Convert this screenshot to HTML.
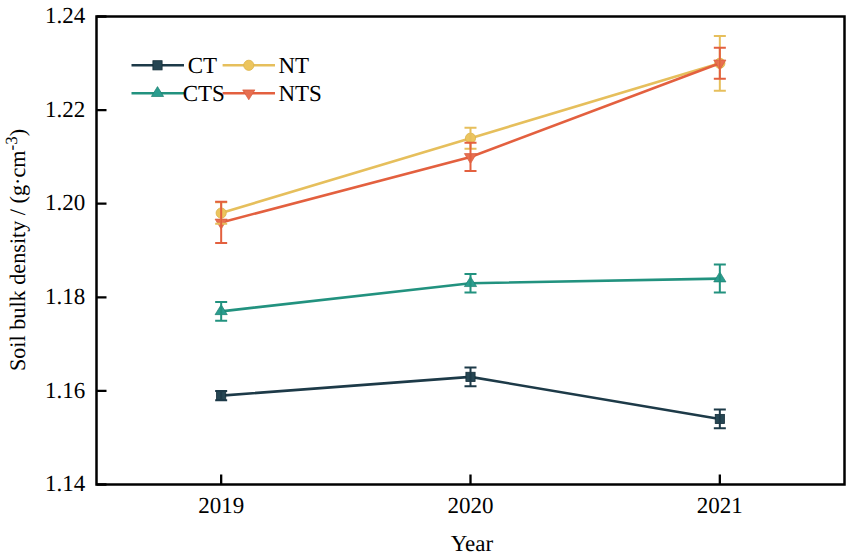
<!DOCTYPE html>
<html><head><meta charset="utf-8"><style>
html,body{margin:0;padding:0;background:#fff;}
svg{display:block;}
text{font-family:"Liberation Serif",serif;font-size:23px;fill:#000;text-rendering:geometricPrecision;}
</style></head><body>
<svg width="851" height="559" viewBox="0 0 851 559">
<rect width="851" height="559" fill="#fff"/>
<path d="M221.17 395.58 L470.50 376.86 L719.83 418.98" fill="none" stroke="#1d3a48" stroke-width="2.6"/>
<rect x="216.57" y="390.98" width="9.2" height="9.2" fill="#264653" stroke="#132c38" stroke-width="0.8"/>
<rect x="465.90" y="372.26" width="9.2" height="9.2" fill="#264653" stroke="#132c38" stroke-width="0.8"/>
<rect x="715.23" y="414.38" width="9.2" height="9.2" fill="#264653" stroke="#132c38" stroke-width="0.8"/>
<path d="M221.17 311.34 L470.50 283.26 L719.83 278.58" fill="none" stroke="#22927f" stroke-width="2.6"/>
<path d="M221.17 304.74L227.27 314.64L215.07 314.64Z" fill="#2a9d8f" stroke="#1b8070" stroke-width="0.7" stroke-linejoin="miter"/>
<path d="M470.50 276.66L476.60 286.56L464.40 286.56Z" fill="#2a9d8f" stroke="#1b8070" stroke-width="0.7" stroke-linejoin="miter"/>
<path d="M719.83 271.98L725.93 281.88L713.73 281.88Z" fill="#2a9d8f" stroke="#1b8070" stroke-width="0.7" stroke-linejoin="miter"/>
<path d="M221.17 213.06 L470.50 138.18 L719.83 63.30" fill="none" stroke="#e6bf5c" stroke-width="2.6"/>
<circle cx="221.17" cy="213.06" r="5.1" fill="#ecc55e" stroke="#dcb24a" stroke-width="0.8"/>
<circle cx="470.50" cy="138.18" r="5.1" fill="#ecc55e" stroke="#dcb24a" stroke-width="0.8"/>
<circle cx="719.83" cy="63.30" r="5.1" fill="#ecc55e" stroke="#dcb24a" stroke-width="0.8"/>
<path d="M221.17 222.42 L470.50 156.90 L719.83 63.30" fill="none" stroke="#e3603f" stroke-width="2.6"/>
<path d="M221.17 229.02L227.27 219.12L215.07 219.12Z" fill="#e76f51" stroke="#d95a3c" stroke-width="0.7" stroke-linejoin="miter"/>
<path d="M470.50 163.50L476.60 153.60L464.40 153.60Z" fill="#e76f51" stroke="#d95a3c" stroke-width="0.7" stroke-linejoin="miter"/>
<path d="M719.83 69.90L725.93 60.00L713.73 60.00Z" fill="#e76f51" stroke="#d95a3c" stroke-width="0.7" stroke-linejoin="miter"/>
<path d="M221.17 390.90V400.26M215.17 390.90H227.17M215.17 400.26H227.17" fill="none" stroke="#1d3a48" stroke-width="2"/>
<path d="M470.50 367.50V386.22M464.50 367.50H476.50M464.50 386.22H476.50" fill="none" stroke="#1d3a48" stroke-width="2"/>
<path d="M719.83 409.62V428.34M713.83 409.62H725.83M713.83 428.34H725.83" fill="none" stroke="#1d3a48" stroke-width="2"/>
<path d="M221.17 301.98V320.70M215.17 301.98H227.17M215.17 320.70H227.17" fill="none" stroke="#22927f" stroke-width="2"/>
<path d="M470.50 273.90V292.62M464.50 273.90H476.50M464.50 292.62H476.50" fill="none" stroke="#22927f" stroke-width="2"/>
<path d="M719.83 264.54V292.62M713.83 264.54H725.83M713.83 292.62H725.83" fill="none" stroke="#22927f" stroke-width="2"/>
<path d="M221.17 202.30V223.82M215.17 202.30H227.17M215.17 223.82H227.17" fill="none" stroke="#e6bf5c" stroke-width="2"/>
<path d="M470.50 127.65V148.71M464.50 127.65H476.50M464.50 148.71H476.50" fill="none" stroke="#e6bf5c" stroke-width="2"/>
<path d="M719.83 35.92V90.68M713.83 35.92H725.83M713.83 90.68H725.83" fill="none" stroke="#e6bf5c" stroke-width="2"/>
<path d="M221.17 201.83V243.01M215.17 201.83H227.17M215.17 243.01H227.17" fill="none" stroke="#e3603f" stroke-width="2"/>
<path d="M470.50 142.86V170.94M464.50 142.86H476.50M464.50 170.94H476.50" fill="none" stroke="#e3603f" stroke-width="2"/>
<path d="M719.83 47.86V78.74M713.83 47.86H725.83M713.83 78.74H725.83" fill="none" stroke="#e3603f" stroke-width="2"/>
<rect x="96.5" y="16.5" width="748.0" height="468.0" fill="none" stroke="#000" stroke-width="2.5"/>
<text x="85.3" y="23.10" text-anchor="end">1.24</text>
<text x="85.3" y="116.70" text-anchor="end">1.22</text>
<text x="85.3" y="210.30" text-anchor="end">1.20</text>
<text x="85.3" y="303.90" text-anchor="end">1.18</text>
<text x="85.3" y="397.50" text-anchor="end">1.16</text>
<text x="85.3" y="491.10" text-anchor="end">1.14</text>
<text x="221.17" y="512.5" text-anchor="middle">2019</text>
<text x="470.50" y="512.5" text-anchor="middle">2020</text>
<text x="719.83" y="512.5" text-anchor="middle">2021</text>
<path d="M96.5 16.50H106.5M96.5 110.10H106.5M96.5 203.70H106.5M96.5 297.30H106.5M96.5 390.90H106.5M96.5 484.50H106.5M221.17 484.5V474.5M470.50 484.5V474.5M719.83 484.5V474.5" stroke="#000" stroke-width="2.3" fill="none"/>
<text x="472.00" y="551.3" text-anchor="middle">Year</text>
<text transform="translate(25.4 250) rotate(-90)" text-anchor="middle" style="font-size:22.2px">Soil bulk density / (g·cm<tspan style="font-size:17px" dy="-8.4">-3</tspan><tspan dy="8.4">)</tspan></text>
<path d="M131.5 65.3H184" stroke="#1d3a48" stroke-width="2.6"/><rect x="152.90" y="60.70" width="9.2" height="9.2" fill="#264653" stroke="#132c38" stroke-width="0.8"/><text x="187.7" y="72.90">CT</text>
<path d="M222.6 65.3H275" stroke="#e6bf5c" stroke-width="2.6"/><circle cx="248.80" cy="65.30" r="5.1" fill="#ecc55e" stroke="#dcb24a" stroke-width="0.8"/><text x="278.4" y="72.90">NT</text>
<path d="M131.5 93.2H184" stroke="#22927f" stroke-width="2.6"/><path d="M157.50 86.60L163.60 96.50L151.40 96.50Z" fill="#2a9d8f" stroke="#1b8070" stroke-width="0.7" stroke-linejoin="miter"/><text x="182.7" y="100.80">CTS</text>
<path d="M222.6 93.2H275" stroke="#e3603f" stroke-width="2.6"/><path d="M248.80 99.80L254.90 89.90L242.70 89.90Z" fill="#e76f51" stroke="#d95a3c" stroke-width="0.7" stroke-linejoin="miter"/><text x="278.4" y="100.80">NTS</text>
</svg>
</body></html>
